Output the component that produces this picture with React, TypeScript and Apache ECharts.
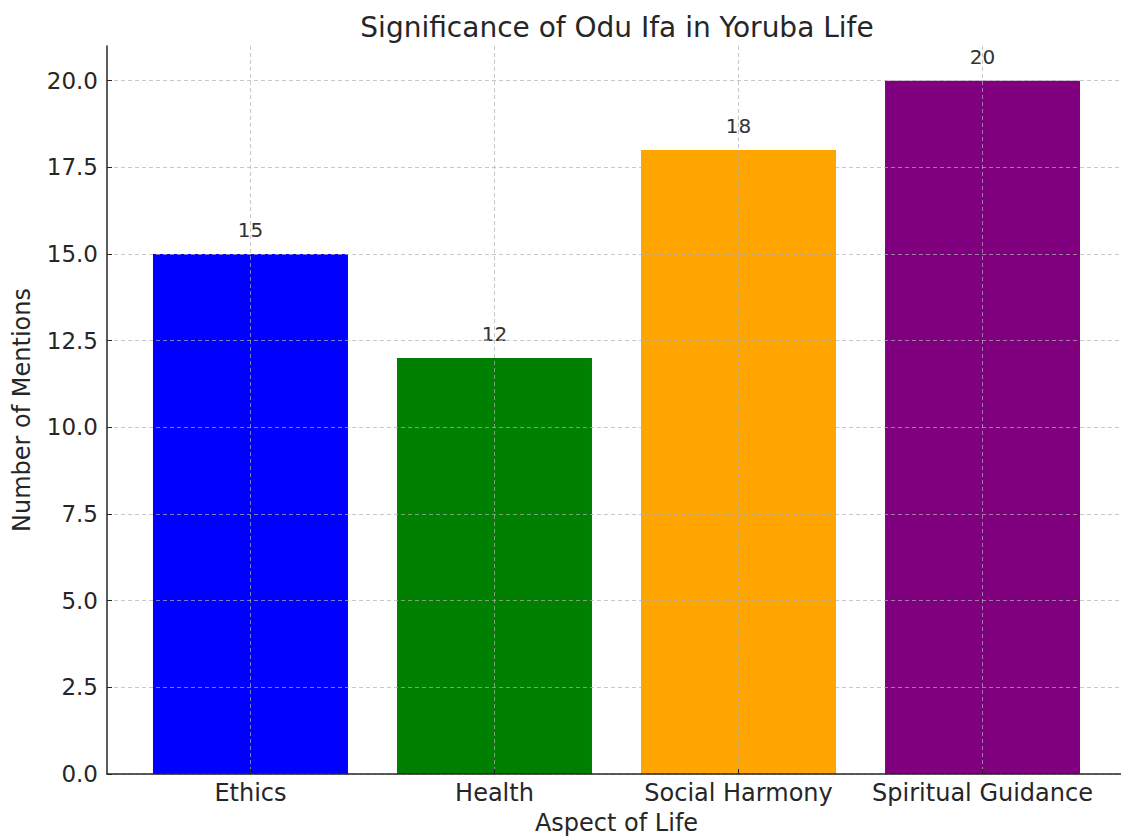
import React, { useEffect, useRef } from "react";
import * as echarts from "echarts";

const categories = ["Ethics", "Health", "Social Harmony", "Spiritual Guidance"];
const mentions = [15, 12, 18, 20];
const barColors = ["#0000ff", "#008000", "#ffa500", "#800080"];
const yTicks = [0, 2.5, 5, 7.5, 10, 12.5, 15, 17.5, 20];

const FONT = "DejaVu Sans";

export default function App() {
  const ref = useRef<HTMLDivElement>(null);
  useEffect(() => {
    if (!ref.current) return;
    const chart = echarts.init(ref.current, null, { renderer: "svg" });
    const xPositions = categories.map((_, i) => i);
    chart.setOption({
      animation: false,
      textStyle: { fontFamily: FONT },
      title: {
        text: "Significance of Odu Ifa in Yoruba Life",
        left: 612,
        textAlign: "center",
        top: 8,
        textStyle: { fontFamily: FONT, fontSize: 28, fontWeight: "normal", color: "#262626" },
      },
      grid: { left: 107, top: 46, right: -5, bottom: 64, outerBoundsMode: "none", containLabel: false },
      xAxis: {
        type: "value",
        min: -0.588,
        max: 3.588,
        name: "Aspect of Life",
        nameLocation: "middle",
        nameGap: 37,
        nameTextStyle: { fontFamily: FONT, fontSize: 24, color: "#262626" },
        axisLine: { show: true, onZero: false, lineStyle: { color: "#262626", width: 1.5 } },
        axisTick: { show: true, inside: true, length: 5, customValues: xPositions, lineStyle: { color: "#262626" } },
        axisLabel: {
          customValues: xPositions,
          formatter: (v: number) => categories[Math.round(v)] ?? "",
          fontFamily: FONT,
          fontSize: 24,
          color: "#262626",
          margin: 7,
        },
        splitLine: { show: true, lineStyle: { type: [4, 3], color: "rgba(176,176,176,0.7)", width: 1 } },
      },
      yAxis: {
        type: "value",
        min: 0,
        max: 21,
        name: "Number of Mentions",
        nameLocation: "middle",
        nameGap: 73,
        nameRotate: 90,
        nameTextStyle: { fontFamily: FONT, fontSize: 24, color: "#262626" },
        axisLine: { show: true, onZero: false, lineStyle: { color: "#262626", width: 1.5 } },
        axisTick: { show: true, inside: true, length: 5, customValues: yTicks, lineStyle: { color: "#262626" } },
        axisLabel: {
          customValues: yTicks,
          formatter: (v: number) => v.toFixed(1),
          fontFamily: FONT,
          fontSize: 23,
          color: "#262626",
          margin: 9,
        },
        splitLine: { show: true, lineStyle: { type: [4, 3], color: "rgba(176,176,176,0.7)", width: 1 } },
      },
      series: [
        {
          type: "bar",
          z: -1,
          barWidth: 195,
          data: mentions.map((v, i) => ({
            value: [i, v],
            itemStyle: { color: barColors[i] },
          })),
          label: {
            show: true,
            position: "top",
            distance: 14,
            formatter: (p: any) => String(p.value[1]),
            fontFamily: FONT,
            fontSize: 20,
            color: "#333333",
          },
        },
      ],
    });
    return () => chart.dispose();
  }, []);
  return (
    <div
      ref={ref}
      style={{ position: "absolute", left: 0, top: 0, width: 1121, height: 838 }}
    />
  );
}
